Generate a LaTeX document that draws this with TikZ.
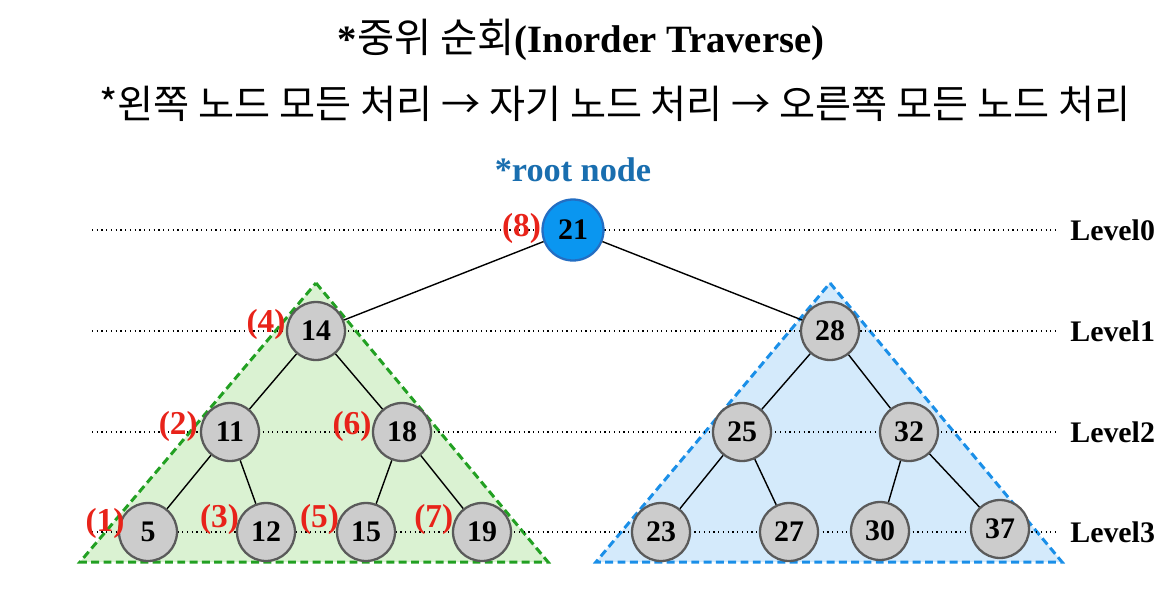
\documentclass[tikz,border=0pt]{standalone}
\usepackage{fontspec}
\setmainfont{Liberation Serif}
\newfontfamily\krfont{Noto Sans CJK KR}
\usepackage{tikz}
\usetikzlibrary{positioning}
\definecolor{rootblue}{RGB}{10, 150, 240}
\definecolor{rootedge}{RGB}{35, 110, 195}
\definecolor{captionblue}{RGB}{25, 110, 175}
\definecolor{orderred}{RGB}{232, 35, 26}
\definecolor{leftgreen}{RGB}{34, 160, 34}
\definecolor{leftfill}{RGB}{218, 242, 210}
\definecolor{rightblue}{RGB}{26, 143, 232}
\definecolor{rightfill}{RGB}{212, 234, 251}
\definecolor{nodegray}{RGB}{204, 204, 204}
\definecolor{nodeedge}{RGB}{90, 90, 90}

\begin{document}
\begin{tikzpicture}[x=0.02cm, y=-0.02cm,
    treenode/.style={circle, draw=nodeedge, fill=nodegray, line width=1.3pt, minimum size=1.16cm,
                     inner sep=0pt, font=\bfseries\fontsize{17}{17}\selectfont},
    rootnode/.style={treenode, draw=rootedge, fill=rootblue, minimum size=1.22cm},
    edge/.style={draw=black, line width=0.8pt},
    levelline/.style={dotted, line width=0.7pt, shorten >=6.8pt},
    levellabel/.style={anchor=west, inner sep=0pt, font=\bfseries\fontsize{17}{17}\selectfont},
    orderlabel/.style={text=orderred, inner sep=0pt, font=\bfseries\fontsize{19}{19}\selectfont},
    subtree/.style={line width=1.7pt, dash pattern=on 4.5pt off 2.5pt}]
\useasboundingbox (0,0) rectangle (1173,592);

% titles
\node[font=\bfseries\fontsize{22}{22}\selectfont] (title) at (581,40) {*{\krfont\mdseries\fontsize{23}{23}\selectfont 중위 순회}(Inorder Traverse)};
\node[font=\krfont\fontsize{22.3}{22.3}\selectfont] (rule) at (615,104) {*왼쪽 노드 모든 처리 → 자기 노드 처리 → 오른쪽 모든 노드 처리};
\node[text=captionblue, font=\bfseries\fontsize{19.5}{19.5}\selectfont] (rootcap) at (573,170) {*root node};

% subtrees
\filldraw[subtree, draw=leftgreen, fill=leftfill]  (316,283) -- (548,562) -- (80,562) -- cycle;
\filldraw[subtree, draw=rightblue, fill=rightfill] (830,283) -- (1062,562) -- (596,562) -- cycle;

% levels
\foreach \lv/\y in {0/230, 1/331, 2/432, 3/532}{
    \coordinate (s\lv) at (92,\y);
    \node[levellabel] (lv\lv) at (1070,\y) {Level\lv};
    \draw[levelline] (s\lv) -- (lv\lv);
}

% nodes
\node[rootnode] (n21) at (573,230) {21};
\node[treenode] (n14) at (316,331) {14};
\node[treenode] (n28) at (830,331) {28};
\node[treenode] (n11) at (230,432) {11};
\node[treenode] (n18) at (402,432) {18};
\node[treenode] (n25) at (742,432) {25};
\node[treenode] (n32) at (909,432) {32};
\node[treenode] (n5)  at (148,532) {5};
\node[treenode] (n12) at (266,532) {12};
\node[treenode] (n15) at (366,532) {15};
\node[treenode] (n19) at (482,532) {19};
\node[treenode] (n23) at (661,532) {23};
\node[treenode] (n27) at (789,532) {27};
\node[treenode] (n30) at (880,531) {30};
\node[treenode] (n37) at (1000,529) {37};

% edges
\foreach \a/\b in {21/14, 21/28, 14/11, 14/18, 11/5, 11/12, 18/15, 18/19,
                   28/25, 28/32, 25/23, 25/27, 32/30, 32/37}
    \draw[edge] (n\a) -- (n\b);

% visiting order
\node[orderlabel, left=0pt of n21, yshift=1pt] (o8) {(8)};
\node[orderlabel, left=0pt of n14, yshift=4pt] (o4) {(4)};
\node[orderlabel, left=1pt of n11, yshift=3pt] (o2) {(2)};
\node[orderlabel, left=0pt of n18, yshift=3pt] (o6) {(6)};
\node[orderlabel, left=-4pt of n5,  yshift=5pt] (o1) {(1)};
\node[orderlabel, left=-2pt of n12, yshift=7pt] (o3) {(3)};
\node[orderlabel, left=-2pt of n15, yshift=7pt] (o5) {(5)};
\node[orderlabel, left=-1pt of n19, yshift=7pt] (o7) {(7)};
\end{tikzpicture}
\end{document}
